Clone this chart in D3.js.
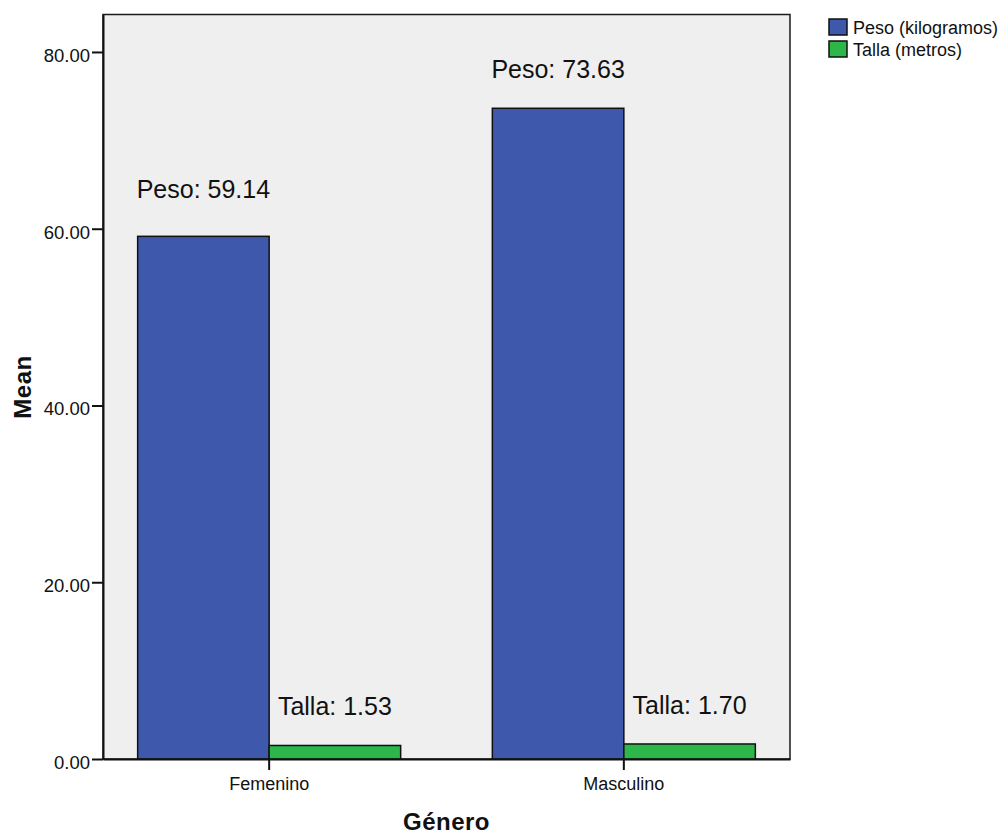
<!DOCTYPE html>
<html>
<head>
<meta charset="utf-8">
<script src="https://cdn.jsdelivr.net/npm/d3@7"></script>
<style>
  html, body { margin: 0; padding: 0; background: #ffffff; }
  svg { display: block; font-family: "Liberation Sans", Arial, sans-serif; }
</style>
</head>
<body>
<svg id="chart" width="1004" height="834"></svg>
<script>
// Mean weight and height by gender
const categories = ["Femenino", "Masculino"];
const series = ["Peso", "Talla"];
const seriesNames = ["Peso (kilogramos)", "Talla (metros)"];
const pesoValues = [59.14, 73.63];
const tallaValues = [1.53, 1.70];
const yTicks = [0, 20, 40, 60, 80];

const colors = { Peso: "#3e58ab", Talla: "#2db74b" };
const valuesBySeries = { Peso: pesoValues, Talla: tallaValues };

const svg = d3.select("#chart");
const frame = { left: 103, right: 790, top: 14.5, bottom: 759 };
const yMax = 84.24;

const x = d3.scaleBand()
  .domain(categories)
  .range([frame.left, frame.right])
  .paddingInner(0.2585)
  .paddingOuter(0.0977);

const xInner = d3.scaleBand()
  .domain(series)
  .range([0, x.bandwidth()])
  .padding(0);

const y = d3.scaleLinear()
  .domain([0, yMax])
  .range([frame.bottom, frame.top]);

// plot background and border
svg.append("rect")
  .attr("x", frame.left)
  .attr("y", frame.top)
  .attr("width", frame.right - frame.left)
  .attr("height", frame.bottom - frame.top)
  .attr("fill", "#efefef")
  .attr("stroke", "#1a1a1a")
  .attr("stroke-width", 1.5);

// flatten into one record per bar
const rows = [];
categories.forEach((c, i) => {
  series.forEach(s => rows.push({ category: c, series: s, value: valuesBySeries[s][i] }));
});

svg.append("g").selectAll("rect.bar")
  .data(rows)
  .join("rect")
  .attr("class", "bar")
  .attr("x", d => x(d.category) + xInner(d.series))
  .attr("y", d => y(d.value))
  .attr("width", xInner.bandwidth())
  .attr("height", d => y(0) - y(d.value))
  .attr("fill", d => colors[d.series])
  .attr("stroke", "#111")
  .attr("stroke-width", 1.5);

// value labels centred over each bar
const labelRaise = d => (d.category === "Femenino" && d.series === "Peso") ? 38 : 30;
svg.append("g").selectAll("text")
  .data(rows)
  .join("text")
  .attr("x", d => x(d.category) + xInner(d.series) + xInner.bandwidth() / 2)
  .attr("y", d => y(d.value) - labelRaise(d))
  .attr("text-anchor", "middle")
  .attr("font-size", 25)
  .attr("fill", "#111")
  .text(d => `${d.series}: ${d.value.toFixed(2)}`);

// y axis
const yAxis = svg.append("g")
  .attr("transform", `translate(${frame.left},0)`)
  .call(d3.axisLeft(y).tickValues(yTicks).tickFormat(d3.format(".2f"))
    .tickSize(11).tickSizeOuter(0).tickPadding(2));
yAxis.select(".domain").attr("stroke", "#111").attr("stroke-width", 2);
yAxis.selectAll(".tick line").attr("stroke", "#111").attr("stroke-width", 2);
yAxis.selectAll(".tick text")
  .attr("font-size", 18.5)
  .attr("font-family", "Liberation Sans, Arial, sans-serif")
  .attr("fill", "#111")
  .attr("dy", "9.5px");

// x axis
const xAxis = svg.append("g")
  .attr("transform", `translate(0,${frame.bottom})`)
  .call(d3.axisBottom(x).tickSize(11).tickPadding(7).tickSizeOuter(0));
xAxis.select(".domain").attr("stroke", "#111").attr("stroke-width", 2);
xAxis.selectAll(".tick line").attr("stroke", "#111").attr("stroke-width", 2);
xAxis.selectAll(".tick text")
  .attr("font-size", 18)
  .attr("font-family", "Liberation Sans, Arial, sans-serif")
  .attr("fill", "#111");

// axis titles
svg.append("text")
  .attr("x", (frame.left + frame.right) / 2)
  .attr("y", 830)
  .attr("text-anchor", "middle")
  .attr("font-size", 24)
  .attr("font-weight", "bold")
  .attr("letter-spacing", "0.5px")
  .attr("fill", "#111")
  .text("Género");

svg.append("text")
  .attr("transform", "translate(31,387) rotate(-90)")
  .attr("text-anchor", "middle")
  .attr("font-size", 24)
  .attr("font-weight", "bold")
  .attr("letter-spacing", "0.5px")
  .attr("fill", "#111")
  .text("Mean");

// legend
const legend = svg.append("g").attr("transform", "translate(829,19)");
const items = legend.selectAll("g")
  .data(series)
  .join("g")
  .attr("transform", (d, i) => `translate(0,${i * 22})`);
items.append("rect")
  .attr("width", 18)
  .attr("height", 16)
  .attr("fill", d => colors[d])
  .attr("stroke", "#111")
  .attr("stroke-width", 1.5);
items.append("text")
  .attr("x", 24)
  .attr("y", 15)
  .attr("font-size", 18)
  .attr("fill", "#111")
  .text((d, i) => seriesNames[i]);
</script>
</body>
</html>
